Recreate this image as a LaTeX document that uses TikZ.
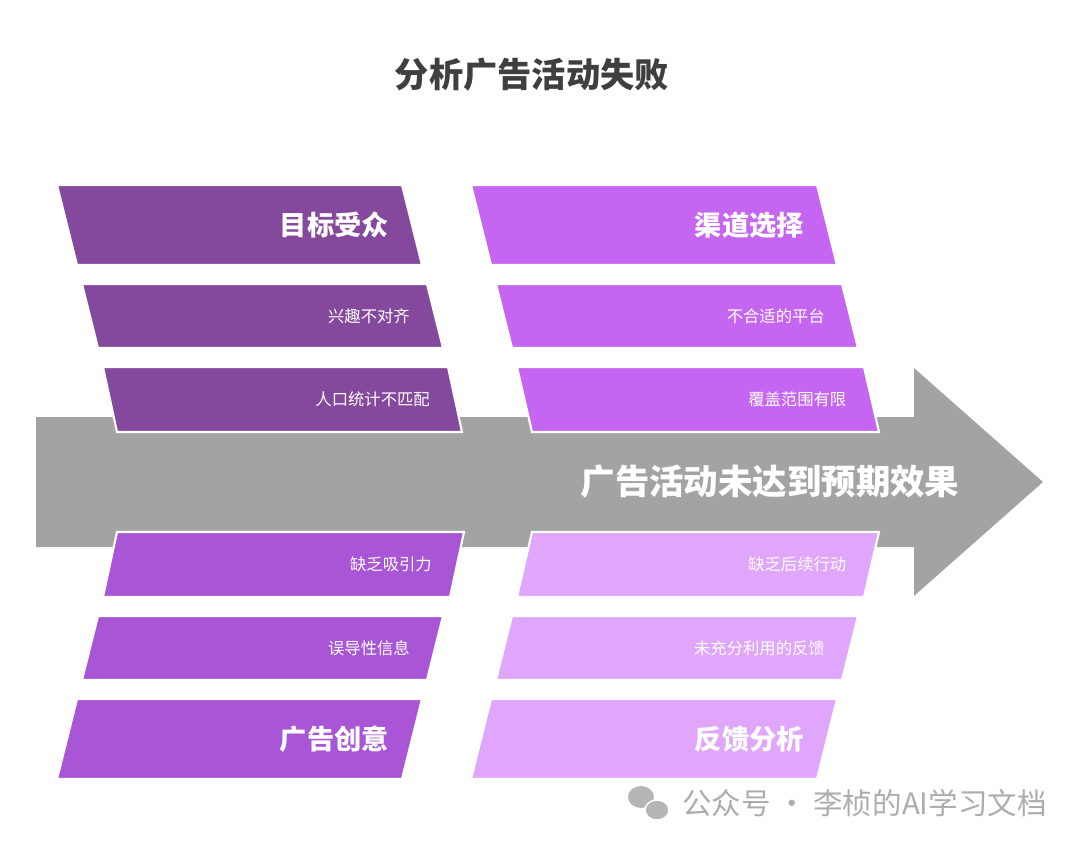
\documentclass[tikz,border=0pt]{standalone}
\usepackage{fontspec}
\setmainfont{Noto Sans CJK SC}
\usepackage{xcolor}
\definecolor{deepviolet}{HTML}{84489C}
\definecolor{brightviolet}{HTML}{C466F2}
\definecolor{midviolet}{HTML}{A855D6}
\definecolor{paleviolet}{HTML}{E0A6FC}
\definecolor{shaftgray}{HTML}{A3A3A3}
\definecolor{titlegray}{HTML}{3F3F3F}
\tikzset{
  headtext/.style={text=white, font=\fontsize{15.5}{17}\selectfont\bfseries, anchor=east, xshift=0.18cm},
  subtext/.style={text=white, font=\fontsize{9.3}{11}\selectfont, anchor=east, xshift=0.14cm},
}
% band: top-left x, bottom-left x, top y, bottom y, width, colour, name, style, text
\newcommand{\band}[9]{%
  \fill[#6, draw=white, line width=1.2pt] (#1,#3) -- (#1+#5,#3) -- (#2+#5,#4) -- (#2,#4) -- cycle;
  \node[#8] (#7) at ({(#1+#2)/2+#5-26},{(#3+#4)/2}) {#9};}
\begin{document}
\begin{tikzpicture}[x=0.02cm, y=-0.02cm]
  \useasboundingbox (0,0) rectangle (1080,848);
  % 标题
  \node[text=titlegray, font=\fontsize{19.5}{22}\selectfont\bfseries] (title) at (532,75) {分析广告活动失败};
  % 主箭头
  \fill[shaftgray] (36,417) -- (914,417) -- (914,368) -- (1043,482) -- (914,596) -- (914,547) -- (36,547) -- cycle;
  \node[text=white, font=\fontsize{19.6}{22}\selectfont\bfseries] (effect) at (770,482) {广告活动未达到预期效果};
  % 上方
  \band{57}{77}{185}{265}{345}{deepviolet}{audience}{headtext}{目标受众}
  \band{82}{98}{284}{348}{345}{deepviolet}{interest}{subtext}{兴趣不对齐}
  \band{103}{117}{367}{432}{345}{deepviolet}{demog}{subtext}{人口统计不匹配}
  \band{471}{491}{185}{265}{346}{brightviolet}{channel}{headtext}{渠道选择}
  \band{496}{512}{284}{348}{346}{brightviolet}{platform}{subtext}{不合适的平台}
  \band{517}{532}{367}{432}{347}{brightviolet}{reach}{subtext}{覆盖范围有限}
  % 下方
  \band{117}{103}{532}{597}{347}{midviolet}{appeal}{subtext}{缺乏吸引力}
  \band{98}{82}{616}{680}{345}{midviolet}{mislead}{subtext}{误导性信息}
  \band{77}{57}{699}{779}{345}{midviolet}{creative}{headtext}{广告创意}
  \band{532}{517}{532}{597}{347}{paleviolet}{followup}{subtext}{缺乏后续行动}
  \band{512}{496}{616}{680}{346}{paleviolet}{unused}{subtext}{未充分利用的反馈}
  \band{491}{471}{699}{779}{346}{paleviolet}{feedback}{headtext}{反馈分析}
  % 水印
  \fill[shaftgray!80] (641,797) ellipse (13 and 11);
  \fill[shaftgray!80, draw=white, line width=0.8pt] (657,810) ellipse (12 and 10);
  \node[text=shaftgray!90, font=\fontsize{16.8}{19}\selectfont, anchor=west] (mark) at (676,803) {公众号 · 李桢的AI学习文档};
\end{tikzpicture}
\end{document}
